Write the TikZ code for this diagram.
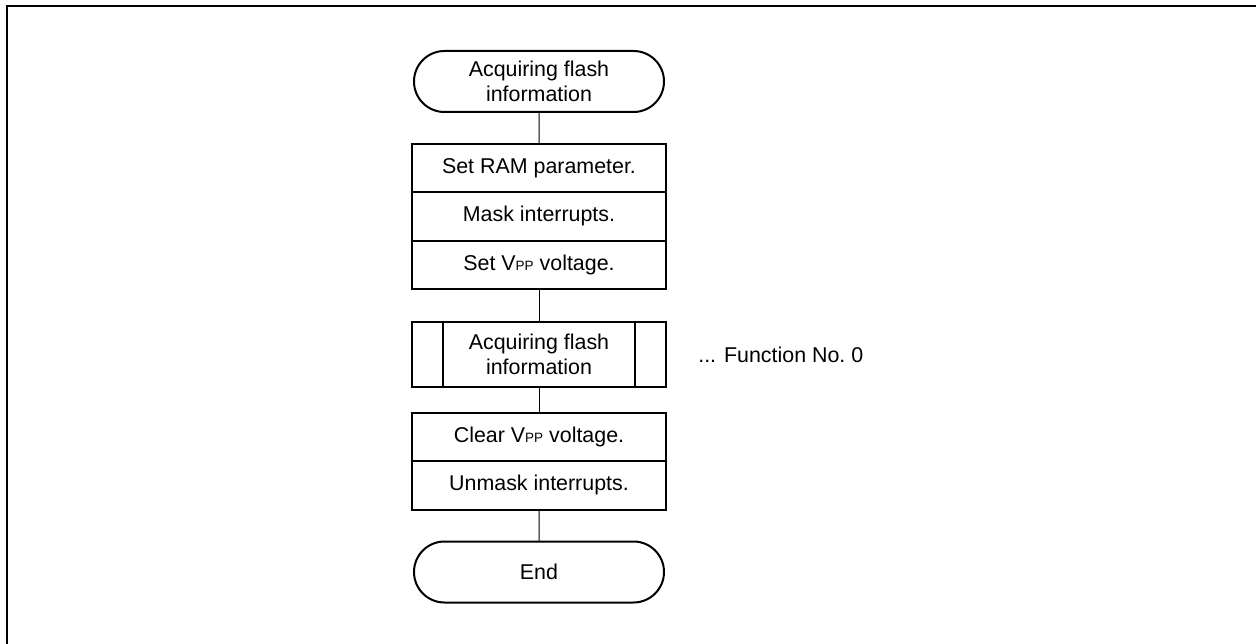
\documentclass[tikz,border=0pt]{standalone}
\usepackage{fontspec}
\setmainfont{Liberation Sans}
\usetikzlibrary{positioning,shapes.misc}
\newcommand{\pp}{{\fontsize{13.5}{14}\selectfont PP}}

\begin{document}
\begin{tikzpicture}[x=1pt,y=-1pt,node distance=32pt,
  every node/.style={font=\fontsize{21.4}{25.7}\selectfont,align=center,outer sep=0pt},
  term/.style={draw,line width=2pt,rounded rectangle,minimum width=254pt,minimum height=61pt,inner sep=2pt},
  stepbox/.style={draw,line width=2pt,rectangle,minimum width=254pt,minimum height=48.3pt,inner sep=2pt},
  subproc/.style={draw,line width=2pt,rectangle,minimum width=254pt,minimum height=65pt,inner sep=2pt},
  flow/.style={line width=1pt}]
  \useasboundingbox (0,0) rectangle (1256,644);
  \draw[line width=2.5pt] (7,644) -- (7,6) -- (1256,6);

  \node[term] (start) at (539,81.5) {Acquiring flash\\information};
  \node[stepbox,below=32pt of start] (ram) {Set RAM parameter.};
  \node[stepbox,below=0pt of ram] (mask) {Mask interrupts.};
  \node[stepbox,below=0pt of mask] (setv) {Set V\pp{} voltage.};
  \node[subproc,below=33pt of setv] (info) {Acquiring flash\\information};
  \draw[line width=2pt] ([xshift=31pt]info.north west) -- ([xshift=31pt]info.south west);
  \draw[line width=2pt] ([xshift=-31pt]info.north east) -- ([xshift=-31pt]info.south east);
  \node[right=29pt of info,anchor=west] (fno) {... Function No.\ 0};
  \node[stepbox,below=26pt of info] (clrv) {Clear V\pp{} voltage.};
  \node[stepbox,below=0pt of clrv] (unmask) {Unmask interrupts.};
  \node[term,below=32pt of unmask] (fin) {End};

  \draw[flow] (start) -- (ram);
  \draw[flow] (setv) -- (info);
  \draw[flow] (info) -- (clrv);
  \draw[flow] (unmask) -- (fin);
\end{tikzpicture}
\end{document}
